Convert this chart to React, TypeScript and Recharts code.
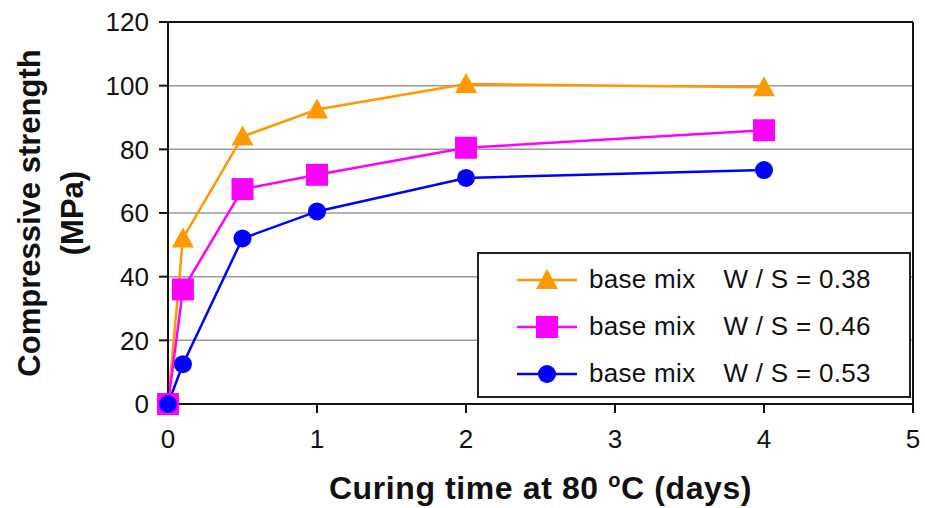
import React from "react";
import {
  LineChart,
  Line,
  XAxis,
  YAxis,
  CartesianGrid,
  ReferenceLine,
} from "recharts";

// curing time (days) and strength (MPa)
const days = [0, 0.1, 0.5, 1, 2, 4];
const ws038 = [0, 52, 84, 92.5, 100.5, 99.5];
const ws046 = [0, 36, 67.5, 72, 80.5, 86];
const ws053 = [0, 12.5, 52, 60.5, 71, 73.5];
const xTicks = [0, 1, 2, 3, 4, 5];
const yTicks = [0, 20, 40, 60, 80, 100, 120];

const series = [
  { key: "ws038", mix: "base mix", ws: "W / S = 0.38", color: "#FF9900", shape: "triangle" },
  { key: "ws046", mix: "base mix", ws: "W / S = 0.46", color: "#FF00FF", shape: "square" },
  { key: "ws053", mix: "base mix", ws: "W / S = 0.53", color: "#0000FF", shape: "circle" },
];

const data = days.map((d, i) => ({
  day: d,
  ws038: ws038[i],
  ws046: ws046[i],
  ws053: ws053[i],
}));

const FONT = "Liberation Sans, Arial, sans-serif";

function Marker({ cx, cy, shape, color }: any) {
  if (cx == null || cy == null) return null;
  if (shape === "triangle") {
    return (
      <polygon
        points={`${cx},${cy - 11} ${cx - 11},${cy + 9} ${cx + 11},${cy + 9}`}
        fill={color}
      />
    );
  }
  if (shape === "square") {
    return <rect x={cx - 11} y={cy - 11} width={22} height={22} fill={color} />;
  }
  return <circle cx={cx} cy={cy} r={9} fill={color} />;
}

// legend drawn as a plain box over the plot, like the original figure
function LegendBox() {
  return (
    <div
      style={{
        position: "absolute",
        left: 477,
        top: 252,
        width: 434,
        height: 146,
        border: "2px solid #222",
        background: "#fff",
        fontFamily: FONT,
        fontSize: 26,
        letterSpacing: 0.3,
        color: "#111",
        paddingTop: 2,
        boxSizing: "border-box",
      }}
    >
      {series.map((s) => (
        <div key={s.key} style={{ display: "flex", alignItems: "center", height: 47 }}>
          <svg width={110} height={30} style={{ flex: "none" }}>
            <line x1={38} x2={98} y1={15} y2={15} stroke={s.color} strokeWidth={2.5} />
            <Marker cx={68} cy={15} shape={s.shape} color={s.color} />
          </svg>
          <span style={{ whiteSpace: "pre" }}>{s.mix}</span>
          <span style={{ whiteSpace: "pre", marginLeft: 28 }}>{s.ws}</span>
        </div>
      ))}
    </div>
  );
}

function YTitle({ viewBox }: any) {
  const cy = viewBox ? viewBox.y + viewBox.height / 2 : 215;
  return (
    <g fontFamily={FONT} fontWeight="bold" fontSize={31} fill="#111">
      <text x={40} y={cy} transform={`rotate(-90 40 ${cy})`} textAnchor="middle">
        Compressive strength
      </text>
      <text x={83} y={cy} transform={`rotate(-90 83 ${cy})`} textAnchor="middle">
        (MPa)
      </text>
    </g>
  );
}

function XTitle({ viewBox }: any) {
  const cx = viewBox ? viewBox.x + viewBox.width / 2 : 543;
  return (
    <text
      x={cx}
      y={499}
      textAnchor="middle"
      fontFamily={FONT}
      fontWeight="bold"
      fontSize={32}
      letterSpacing={0.6}
      fill="#111"
    >
      Curing time at 80{" "}
      <tspan dy={-12} fontSize={20}>o</tspan>
      <tspan dy={12}>C (days)</tspan>
    </text>
  );
}

export default function App() {
  return (
    <div style={{ position: "absolute", left: 0, top: 0, width: 925, height: 508, background: "#fff" }}>
      <LineChart
        width={925}
        height={508}
        data={data}
        margin={{ top: 22, right: 12, left: 108, bottom: 64 }}
      >
        <CartesianGrid vertical={false} stroke="#999" strokeWidth={1.5} />
        <ReferenceLine y={120} stroke="#111" strokeWidth={2} />
        <ReferenceLine x={5} stroke="#111" strokeWidth={2} />
        <XAxis
          dataKey="day"
          type="number"
          domain={[0, 5]}
          ticks={xTicks}
          height={40}
          tickSize={9}
          tickMargin={17}
          stroke="#111"
          strokeWidth={2}
          tick={{ fontFamily: FONT, fontSize: 26, fill: "#111" }}
          label={<XTitle />}
        />
        <YAxis
          type="number"
          domain={[0, 120]}
          ticks={yTicks}
          width={60}
          tickSize={9}
          tickMargin={10}
          stroke="#111"
          strokeWidth={2}
          tick={{ fontFamily: FONT, fontSize: 26, fill: "#111" }}
          label={<YTitle />}
        />
        {series.map((s) => (
          <Line
            key={s.key}
            dataKey={s.key}
            name={`${s.mix} ${s.ws}`}
            stroke={s.color}
            strokeWidth={2.5}
            isAnimationActive={false}
            dot={(p: any) => <Marker key={`${s.key}-${p.index}`} cx={p.cx} cy={p.cy} shape={s.shape} color={s.color} />}
            activeDot={false}
          />
        ))}
      </LineChart>
      <LegendBox />
    </div>
  );
}
